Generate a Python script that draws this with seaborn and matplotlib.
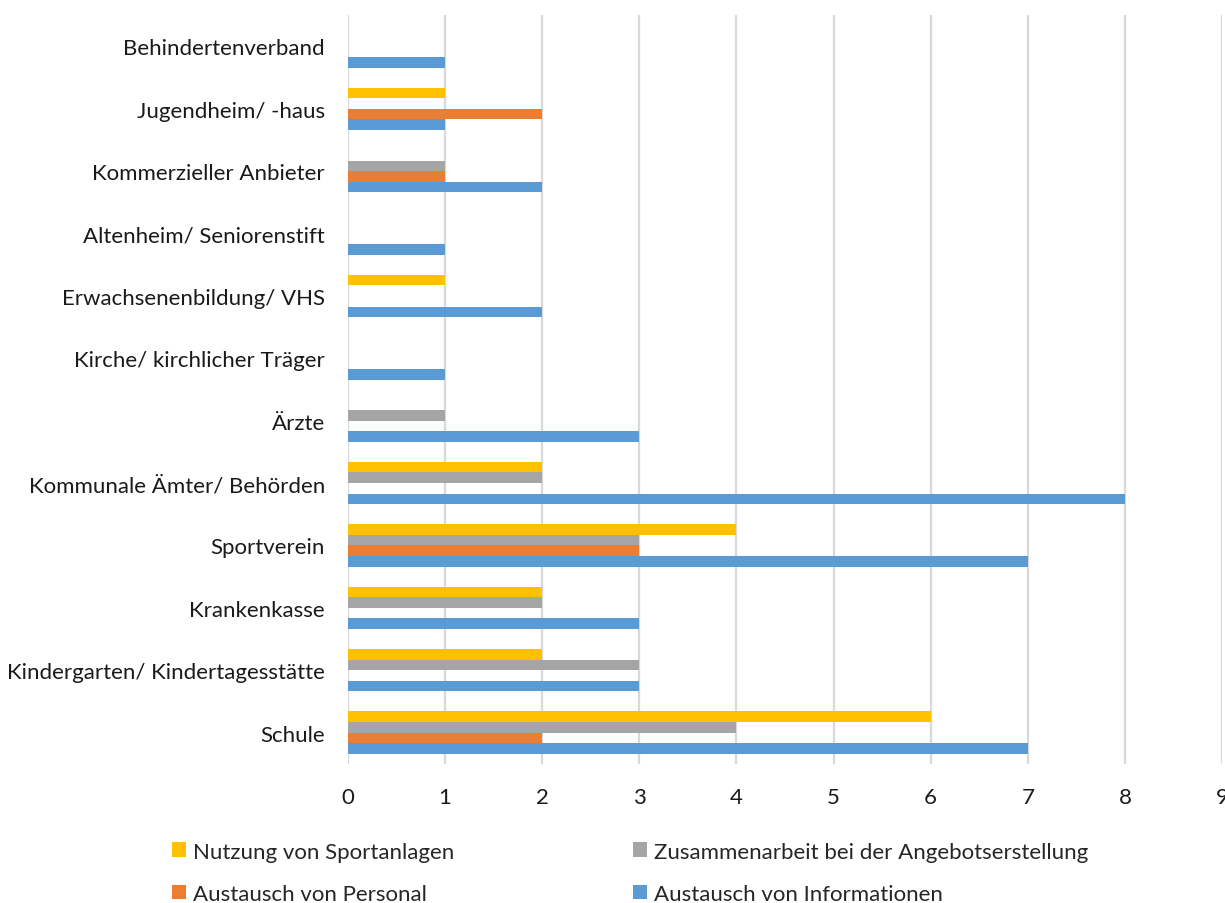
import matplotlib
matplotlib.use("Agg")
import matplotlib.pyplot as plt
import seaborn as sns
import pandas as pd

# Partner categories, listed from top to bottom
categories = [
    "Behindertenverband",
    "Jugendheim/ -haus",
    "Kommerzieller Anbieter",
    "Altenheim/ Seniorenstift",
    "Erwachsenenbildung/ VHS",
    "Kirche/ kirchlicher Träger",
    "Ärzte",
    "Kommunale Ämter/ Behörden",
    "Sportverein",
    "Krankenkasse",
    "Kindergarten/ Kindertagesstätte",
    "Schule",
]

series_names = [
    "Nutzung von Sportanlagen",
    "Zusammenarbeit bei der Angebotserstellung",
    "Austausch von Personal",
    "Austausch von Informationen",
]

nutzung_sportanlagen = [0, 1, 0, 0, 1, 0, 0, 2, 4, 2, 2, 6]
zusammenarbeit_angebot = [0, 0, 1, 0, 0, 0, 1, 2, 3, 2, 3, 4]
austausch_personal = [0, 2, 1, 0, 0, 0, 0, 0, 3, 0, 0, 2]
austausch_informationen = [1, 1, 2, 1, 2, 1, 3, 8, 7, 3, 3, 7]

x_ticks = list(range(0, 10))

colors = ["#FFC000", "#A5A5A5", "#ED7D31", "#5B9BD5"]

rows = []
for name, values in zip(series_names,
                        [nutzung_sportanlagen, zusammenarbeit_angebot,
                         austausch_personal, austausch_informationen]):
    for cat, v in zip(categories, values):
        rows.append({"Partner": cat, "Art": name, "Anzahl": v})
df = pd.DataFrame(rows)

sns.set_theme(style="white")
plt.rcParams["font.family"] = ["Lato", "DejaVu Sans"]

FS = 16

fig = plt.figure(figsize=(12.25, 9.04), dpi=100)
ax = fig.add_axes([0.284, 0.154, 0.7136, 0.828])

sns.barplot(data=df, y="Partner", x="Anzahl", hue="Art",
            order=categories, hue_order=series_names,
            palette=colors, orient="h", width=0.68,
            linewidth=0, saturation=1, ax=ax, legend=True)

ax.set_xlim(0, 9)
ax.set_xticks(x_ticks)
ax.set_xticklabels([str(t) for t in x_ticks], fontsize=FS, color="#1a1a1a")
ax.tick_params(axis="y", labelsize=FS, labelcolor="#1a1a1a", length=0, pad=16.5)
ax.tick_params(axis="x", length=0, pad=17)
ax.set_xlabel("")
ax.set_ylabel("")
ax.grid(axis="x", color="#D9D9D9", linewidth=1.6)
ax.set_axisbelow(True)
for s in ax.spines.values():
    s.set_visible(False)

handles, labels = ax.get_legend_handles_labels()
ax.get_legend().remove()

legend_kw = dict(loc="upper left", frameon=False, fontsize=FS,
                 handlelength=0.65, handleheight=0.65, handletextpad=0.3,
                 labelspacing=1.0, borderaxespad=0, borderpad=0)
fig.legend([handles[0], handles[2]], [labels[0], labels[2]],
           bbox_to_anchor=(0.1404, 0.068), **legend_kw)
fig.legend([handles[1], handles[3]], [labels[1], labels[3]],
           bbox_to_anchor=(0.5167, 0.068), **legend_kw)

fig.savefig("out.png", dpi=100)
